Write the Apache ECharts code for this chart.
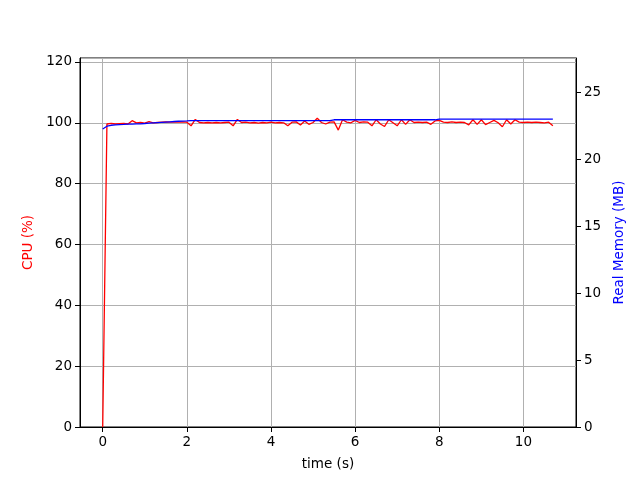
<!DOCTYPE html>
<html>
<head>
<meta charset="utf-8">
<script src="https://cdn.jsdelivr.net/npm/echarts@6/dist/echarts.min.js"></script>
<style>html,body{margin:0;padding:0;background:#fff}#c{width:640px;height:480px}</style>
</head>
<body>
<div id="c"></div>
<script>
const timeS = [0.0,0.1,0.2,0.3,0.4,0.5,0.6,0.7,0.8,0.9,
1.0,1.1,1.2,1.3,1.4,1.5,1.6,1.7,1.8,1.9,
2.0,2.1,2.2,2.3,2.4,2.5,2.6,2.7,2.8,2.9,
3.0,3.1,3.2,3.3,3.4,3.5,3.6,3.7,3.8,3.9,
4.0,4.1,4.2,4.3,4.4,4.5,4.6,4.7,4.8,4.9,
5.0,5.1,5.2,5.3,5.4,5.5,5.6,5.7,5.8,5.9,
6.0,6.1,6.2,6.3,6.4,6.5,6.6,6.7,6.8,6.9,
7.0,7.1,7.2,7.3,7.4,7.5,7.6,7.7,7.8,7.9,
8.0,8.1,8.2,8.3,8.4,8.5,8.6,8.7,8.8,8.9,
9.0,9.1,9.2,9.3,9.4,9.5,9.6,9.7,9.8,9.9,
10.0,10.1,10.2,10.3,10.4,10.5,10.6,10.7];

const cpuPct = [0,99.6,99.8,99.6,99.7,99.8,99.6,100.7,100.0,100.1,
99.9,100.4,100.0,100.1,100.2,100.3,100.2,100.3,100.2,100.3,
100.2,99.0,101.1,100.1,100.0,100.1,100.0,100.1,100.0,100.1,
100.2,99.0,101.1,100.1,100.2,100.0,100.1,99.9,100.1,100.0,
100.2,100.0,100.1,100.0,99.0,100.2,100.3,99.3,100.6,99.5,
100.1,101.5,100.1,99.6,100.2,100.3,97.6,101.0,100.2,100.0,
100.8,100.1,100.3,100.2,99.0,101.0,99.6,98.8,101.0,100.0,
99.0,101.0,99.5,101.0,100.1,100.2,100.1,100.2,99.5,100.6,
100.8,100.2,100.1,100.3,100.1,100.2,100.1,99.3,101.0,99.5,
101.0,99.4,100.1,100.8,100.0,98.7,101.0,99.6,101.0,100.2,
100.1,100.2,100.1,100.2,100.1,100.0,100.2,99.0];

const memMB = [22.24,22.45,22.52,22.55,22.57,22.58,22.60,22.61,22.62,22.63,
22.65,22.68,22.70,22.72,22.74,22.76,22.78,22.80,22.82,22.83,
22.84,22.86,22.86,22.86,22.86,22.86,22.86,22.86,22.86,22.86,
22.86,22.86,22.86,22.86,22.86,22.86,22.86,22.86,22.86,22.86,
22.86,22.86,22.86,22.86,22.86,22.86,22.86,22.86,22.86,22.86,
22.86,22.86,22.86,22.86,22.86,22.93,22.93,22.93,22.93,22.93,
22.93,22.93,22.93,22.93,22.93,22.93,22.93,22.93,22.93,22.93,
22.93,22.93,22.93,22.93,22.93,22.93,22.93,22.93,22.93,22.93,
22.98,22.98,22.98,22.98,22.98,22.98,22.98,22.98,22.98,22.98,
22.98,22.98,22.98,22.98,22.98,22.98,22.98,22.98,22.98,22.98,
22.98,22.98,22.98,22.98,22.98,22.98,22.98,22.98];

const xTicks = [0,2,4,6,8,10];

const font = 'DejaVu Sans';
const chart = echarts.init(document.getElementById('c'), null, {renderer:'canvas'});
chart.setOption({
  animation: false,
  backgroundColor: '#fff',
  grid: {left: 80, right: 64, top: 58, bottom: 53, show: true, borderColor: '#000', borderWidth: 1, backgroundColor: 'transparent'},
  xAxis: {
    type: 'value', min: -0.54, max: 11.25,
    name: 'time (s)', nameLocation: 'middle', nameGap: 30,
    nameTextStyle: {fontFamily: font, fontSize: 13.5, color: '#000'},
    axisLine: {show: true, onZero: false, lineStyle: {color: '#000', width: 1}},
    axisTick: {show: true, inside: false, length: 5, customValues: xTicks, lineStyle: {color: '#000'}},
    axisLabel: {customValues: xTicks, fontFamily: font, fontSize: 13.5, color: '#000', margin: 8},
    splitLine: {show: true, lineStyle: {color: '#b0b0b0', width: 1}}
  },
  yAxis: [{
    type: 'value', min: 0, max: 121.3, interval: 20, position: 'left',
    name: 'CPU (%)', nameLocation: 'middle', nameGap: 40,
    nameTextStyle: {fontFamily: font, fontSize: 13.5, color: '#ff0000'},
    axisLine: {show: true, onZero: false, lineStyle: {color: '#000', width: 1}},
    axisTick: {show: true, inside: false, length: 5, lineStyle: {color: '#000'}},
    axisLabel: {fontFamily: font, fontSize: 13.5, color: '#000', margin: 8, showMaxLabel: false},
    splitLine: {show: true, lineStyle: {color: '#b0b0b0', width: 1}}
  }, {
    type: 'value', min: 0, max: 27.54, interval: 5, position: 'right',
    name: 'Real Memory (MB)', nameLocation: 'middle', nameGap: 30,
    nameTextStyle: {fontFamily: font, fontSize: 13.5, color: '#0000ff'},
    axisLine: {show: true, onZero: false, lineStyle: {color: '#000', width: 1}},
    axisTick: {show: true, inside: false, length: 5, lineStyle: {color: '#000'}},
    axisLabel: {fontFamily: font, fontSize: 13.5, color: '#000', margin: 8, showMaxLabel: false},
    splitLine: {show: false}
  }],
  series: [{
    type: 'line', yAxisIndex: 0, showSymbol: false, symbol: 'none',
    data: timeS.map((t, i) => [t, cpuPct[i]]),
    lineStyle: {color: '#ff0000', width: 1.3}, itemStyle: {color: '#ff0000'}
  }, {
    type: 'line', yAxisIndex: 1, showSymbol: false, symbol: 'none',
    data: timeS.map((t, i) => [t, memMB[i]]),
    lineStyle: {color: '#0000ff', width: 1.3}, itemStyle: {color: '#0000ff'}
  }]
});
</script>
</body>
</html>
